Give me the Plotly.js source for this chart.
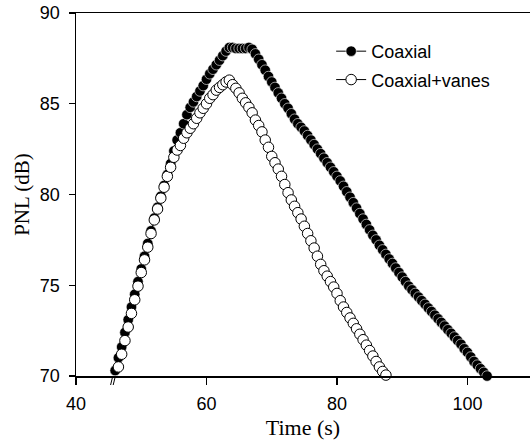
<!DOCTYPE html>
<html>
<head>
<meta charset="utf-8">
<script src="https://cdn.plot.ly/plotly-3.0.1.min.js"></script>
<style>html,body{margin:0;padding:0;background:#fff;}#chart{width:530px;height:442px;}</style>
</head>
<body>
<div id="chart"></div>
<script>
// Coaxial (filled circles)
const coaxialTime = [46.0,46.5,47.0,47.5,48.0,48.5,49.0,49.5,50.0,50.5,51.0,51.5,52.0,52.5,53.0,53.5,54.0,54.5,55.0,55.5,56.0,56.5,57.0,57.5,58.0,58.5,59.0,59.5,60.0,60.5,61.0,61.5,62.0,62.5,63.0,63.5,64.0,64.5,65.0,65.5,66.0,66.5,67.0,67.5,68.0,68.5,69.0,69.5,70.0,70.5,71.0,71.5,72.0,72.5,73.0,73.5,74.0,74.5,75.0,75.5,76.0,76.5,77.0,77.5,78.0,78.5,79.0,79.5,80.0,80.5,81.0,81.5,82.0,82.5,83.0,83.5,84.0,84.5,85.0,85.5,86.0,86.5,87.0,87.5,88.0,88.5,89.0,89.5,90.0,90.5,91.0,91.5,92.0,92.5,93.0,93.5,94.0,94.5,95.0,95.5,96.0,96.5,97.0,97.5,98.0,98.5,99.0,99.5,100.0,100.5,101.0,101.5,102.0,102.5,103.0];
const coaxialPNL = [70.3,71.0,71.6,72.4,73.1,73.8,74.5,75.2,75.9,76.6,77.3,78.0,78.7,79.3,79.9,80.5,81.1,81.7,82.4,83.0,83.4,83.9,84.4,84.8,85.1,85.4,85.7,86.0,86.35,86.65,86.9,87.15,87.4,87.65,87.9,88.1,88.1,88.05,88.05,88.05,88.05,88.1,88.0,87.75,87.45,87.15,86.85,86.5,86.2,85.9,85.6,85.3,85.0,84.75,84.45,84.15,83.9,83.7,83.5,83.25,83.0,82.75,82.5,82.25,82.0,81.75,81.5,81.25,81.0,80.75,80.45,80.15,79.85,79.55,79.25,78.95,78.65,78.35,78.05,77.75,77.5,77.2,76.95,76.7,76.45,76.2,75.95,75.7,75.45,75.2,74.95,74.75,74.55,74.35,74.15,73.95,73.75,73.55,73.35,73.15,72.95,72.75,72.55,72.35,72.15,71.95,71.75,71.5,71.3,71.05,70.8,70.6,70.4,70.2,70.0];

// Coaxial+vanes (open circles)
const vanesTime = [46.5,47.0,47.5,48.0,48.5,49.0,49.5,50.0,50.5,51.0,51.5,52.0,52.5,53.0,53.5,54.0,54.5,55.0,55.5,56.0,56.5,57.0,57.5,58.0,58.5,59.0,59.5,60.0,60.5,61.0,61.5,62.0,62.5,63.0,63.5,64.0,64.5,65.0,65.5,66.0,66.5,67.0,67.5,68.0,68.5,69.0,69.5,70.0,70.5,71.0,71.5,72.0,72.5,73.0,73.5,74.0,74.5,75.0,75.5,76.0,76.5,77.0,77.5,78.0,78.5,79.0,79.5,80.0,80.5,81.0,81.5,82.0,82.5,83.0,83.5,84.0,84.5,85.0,85.5,86.0,86.5,87.0,87.5];
const vanesPNL = [70.5,71.2,71.95,72.7,73.45,74.2,74.95,75.7,76.4,77.1,77.85,78.6,79.2,79.8,80.4,81.0,81.5,82.05,82.45,82.7,83.1,83.4,83.65,83.9,84.2,84.5,84.75,85.0,85.3,85.5,85.75,85.9,86.05,86.2,86.3,86.05,85.85,85.6,85.3,85.05,84.8,84.5,84.1,83.8,83.45,83.0,82.6,82.1,81.75,81.4,81.0,80.55,80.1,79.7,79.35,79.0,78.65,78.25,77.85,77.45,77.05,76.6,76.15,75.8,75.5,75.2,74.9,74.55,74.15,73.8,73.5,73.2,72.9,72.6,72.3,72.0,71.7,71.4,71.1,70.8,70.5,70.25,70.05];

const seriesNames = ["Coaxial", "Coaxial+vanes"];
const xTicks = [40, 60, 80, 100];
const yTicks = [70, 75, 80, 85, 90];

const traces = [
  {
    x: coaxialTime, y: coaxialPNL, name: seriesNames[0], type: "scatter", mode: "lines+markers",
    legendgroup: "a", cliponaxis: false,
    line: {color: "#000", width: 1},
    marker: {symbol: "circle", size: 10.5, color: "#000", line: {color: "#fff", width: 0.6}}
  },
  {
    x: vanesTime, y: vanesPNL, name: seriesNames[1], type: "scatter", mode: "lines+markers",
    legendgroup: "b", cliponaxis: false,
    line: {color: "#000", width: 1},
    marker: {symbol: "circle", size: 10.5, color: "#fff", line: {color: "#000", width: 1}}
  }
];

const plotH = 363;
const layout = {
  width: 530, height: 442,
  margin: {l: 76, r: 0, t: 13, b: 66},
  paper_bgcolor: "#fff", plot_bgcolor: "#fff",
  font: {family: "Liberation Sans, Arial, sans-serif", color: "#000", size: 18},
  showlegend: true,
  legend: {
    x: 0.562, y: 0.945, xanchor: "left", yanchor: "top",
    bgcolor: "rgba(0,0,0,0)", borderwidth: 0,
    font: {family: "Liberation Sans, Arial, sans-serif", size: 18, color: "#000"},
    traceorder: "grouped", tracegroupgap: 2
  },
  xaxis: {
    range: [40, 109.58], tickvals: xTicks, ticktext: xTicks.map(String),
    showline: true, linecolor: "#000", linewidth: 1.5, mirror: true,
    ticks: "outside", ticklen: 7, tickwidth: 1.2, tickcolor: "#000",
    ticklabelstandoff: 4,
    showgrid: false, zeroline: false,
    tickfont: {family: "Liberation Sans, Arial, sans-serif", size: 18},
    title: {text: "Time (s)", font: {family: "Liberation Serif, Times New Roman, serif", size: 22}, standoff: 6}
  },
  yaxis: {
    range: [70, 90], tickvals: yTicks, ticktext: yTicks.map(String),
    showline: true, linecolor: "#000", linewidth: 1.5, mirror: false,
    ticks: "outside", ticklen: 6, tickwidth: 1.2, tickcolor: "#000",
    ticklabelstandoff: 5,
    showgrid: false, zeroline: false,
    tickfont: {family: "Liberation Sans, Arial, sans-serif", size: 18},
    title: {text: "PNL (dB)", font: {family: "Liberation Serif, Times New Roman, serif", size: 21}, standoff: 4}
  },
  shapes: [
    {type: "line", xref: "x", yref: "paper", x0: 45.3, x1: 45.6, y0: -9 / plotH, y1: -1 / plotH, line: {color: "#000", width: 1}},
    {type: "line", xref: "x", yref: "paper", x0: 45.7, x1: 46.0, y0: -9 / plotH, y1: -1 / plotH, line: {color: "#000", width: 1}}
  ]
};

Plotly.newPlot("chart", traces, layout, {displayModeBar: false, staticPlot: true});
</script>
</body>
</html>
